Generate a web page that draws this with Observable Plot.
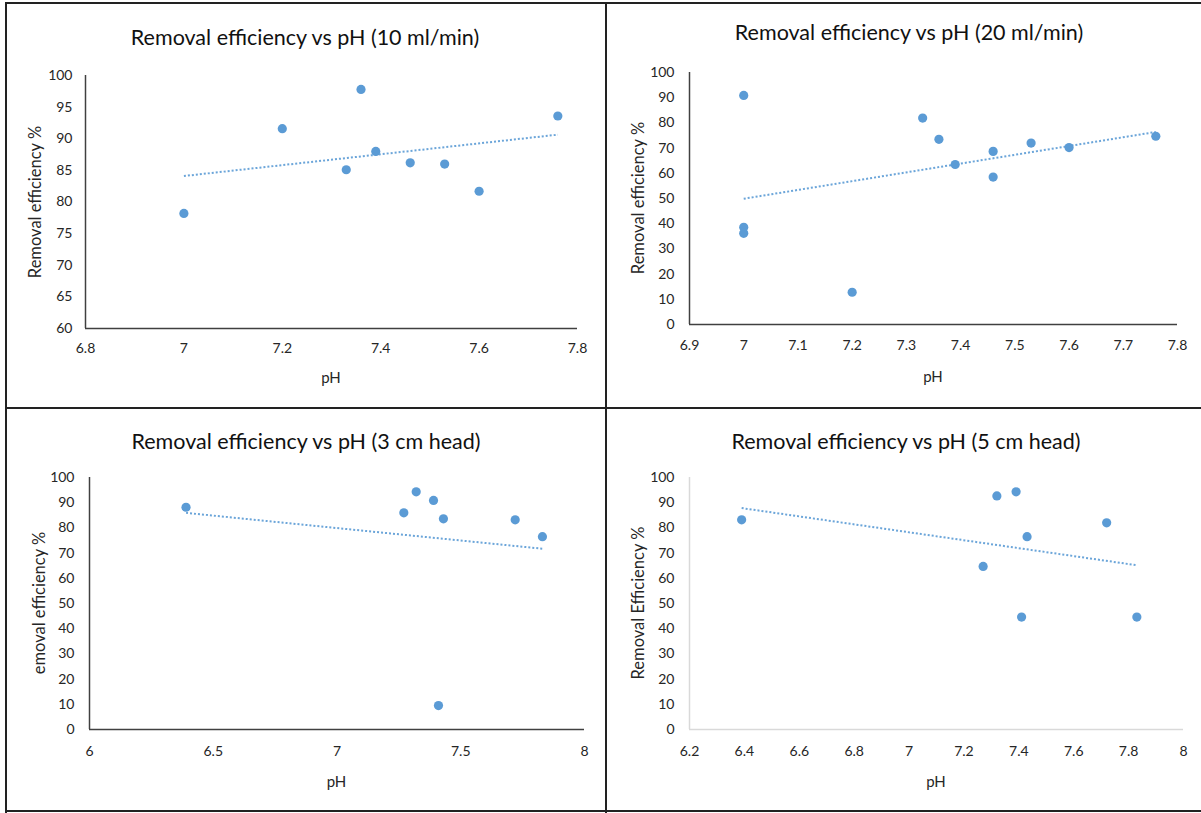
<!DOCTYPE html>
<html>
<head>
<meta charset="utf-8">
<script src="https://cdn.jsdelivr.net/npm/d3@7"></script>
<script src="https://cdn.jsdelivr.net/npm/@observablehq/plot@0.6"></script>
<style>
  html, body { margin: 0; padding: 0; background: #fff; }
  #root { position: relative; width: 1201px; height: 813px; overflow: hidden; background: #fff; font-family: Lato, "Open Sans", sans-serif; }
  .title { position: absolute; transform: translate(-50%, -50%); white-space: nowrap; font-size: 21.5px; color: #111; font-family: Lato, sans-serif; }
  .line { position: absolute; background: #222; }
</style>
</head>
<body>
<div id="root"></div>
<script>
// ---- data ----
const titles = [
  "Removal efficiency vs pH (10 ml/min)",
  "Removal efficiency vs pH (20 ml/min)",
  "Removal efficiency vs pH (3 cm head)",
  "Removal efficiency vs pH (5 cm head)"
];
const yLabels = ["Removal  efficiency %", "Removal  efficiency %", "emoval  efficiency %", "Removal  Efficiency %"];
const xLabel = "pH";

const ph10  = [7.00, 7.20, 7.33, 7.36, 7.39, 7.46, 7.53, 7.60, 7.76];
const eff10 = [78.2, 91.6, 85.1, 97.8, 88.0, 86.2, 86.0, 81.7, 93.6];

const ph20  = [7.00, 7.00, 7.00, 7.20, 7.33, 7.36, 7.39, 7.46, 7.46, 7.53, 7.60, 7.76];
const eff20 = [90.9, 38.6, 36.2, 12.8, 81.9, 73.5, 63.5, 68.7, 58.5, 72.0, 70.2, 74.7];

const ph3   = [6.39, 7.27, 7.32, 7.39, 7.41, 7.43, 7.72, 7.83];
const eff3  = [88.2, 86.0, 94.3, 90.9, 9.5, 83.6, 83.2, 76.5];

const ph5   = [6.39, 7.27, 7.32, 7.39, 7.41, 7.43, 7.72, 7.83];
const eff5  = [83.2, 64.7, 92.7, 94.3, 44.6, 76.5, 82.0, 44.6];

const xTicks10 = [6.8, 7, 7.2, 7.4, 7.6, 7.8];
const yTicks10 = [60, 65, 70, 75, 80, 85, 90, 95, 100];
const xTicks20 = [6.9, 7, 7.1, 7.2, 7.3, 7.4, 7.5, 7.6, 7.7, 7.8];
const yTicks100 = [0, 10, 20, 30, 40, 50, 60, 70, 80, 90, 100];
const xTicks3 = [6, 6.5, 7, 7.5, 8];
const xTicks5 = [6.2, 6.4, 6.6, 6.8, 7, 7.2, 7.4, 7.6, 7.8, 8];

// ---- layout ----
const root = document.getElementById("root");
const dotColor = "#5B9BD5";

const panels = [
  {ph: ph10, eff: eff10, xTicks: xTicks10, yTicks: yTicks10, left: 0, top: 0, w: 606, h: 408,
   m: {l: 85, r: 29, t: 75, b: 80}, axisColor: "#404040", yPad: 13, xPad: 15,
   title: [305, 37], yLab: 35, xLab: 377},
  {ph: ph20, eff: eff20, xTicks: xTicks20, yTicks: yTicks100, left: 606, top: 0, w: 595, h: 408,
   m: {l: 83, r: 24, t: 72, b: 84}, axisColor: "#404040", yPad: 15, xPad: 16,
   title: [909, 32], yLab: 638, xLab: 376},
  {ph: ph3, eff: eff3, xTicks: xTicks3, yTicks: yTicks100, left: 0, top: 408, w: 606, h: 405,
   m: {l: 89, r: 22, t: 69, b: 84}, axisColor: "#404040", yPad: 15, xPad: 17,
   title: [306, 441], yLab: 39, xLab: 781},
  {ph: ph5, eff: eff5, xTicks: xTicks5, yTicks: yTicks100, left: 606, top: 408, w: 595, h: 405,
   m: {l: 83, r: 18, t: 69, b: 84}, axisColor: "#d9d9d9", yPad: 15, xPad: 17,
   title: [906, 441], yLab: 638, xLab: 781}
];

panels.forEach((p, i) => {
  const data = p.ph.map((x, j) => ({ph: x, eff: p.eff[j]}));
  const xDom = [p.xTicks[0], p.xTicks[p.xTicks.length - 1]];
  const yDom = [p.yTicks[0], p.yTicks[p.yTicks.length - 1]];
  const chart = Plot.plot({
    width: p.w, height: p.h,
    marginLeft: p.m.l, marginRight: p.m.r, marginTop: p.m.t, marginBottom: p.m.b,
    style: {fontFamily: "Lato, sans-serif", fontSize: "14px", color: "#262626", background: "transparent", overflow: "visible"},
    x: {domain: xDom},
    y: {domain: yDom},
    marks: [
      Plot.axisX({ticks: p.xTicks, tickSize: 0, tickPadding: p.xPad, label: null, tickFormat: d => String(d)}),
      Plot.axisY({ticks: p.yTicks, tickSize: 0, tickPadding: p.yPad, label: null, tickFormat: d => String(d)}),
      Plot.ruleX([xDom[0]], {stroke: p.axisColor, strokeWidth: 1.5}),
      Plot.ruleY([yDom[0]], {stroke: p.axisColor, strokeWidth: 1.5}),
      Plot.linearRegressionY(data, {x: "ph", y: "eff", ci: 0, stroke: dotColor, strokeOpacity: 0.9, strokeWidth: 2, strokeDasharray: "2,2", strokeLinecap: "butt"}),
      Plot.dot(data, {x: "ph", y: "eff", r: 4.6, fill: dotColor, stroke: "none"})
    ]
  });
  chart.style.position = "absolute";
  chart.style.left = p.left + "px";
  chart.style.top = p.top + "px";
  root.appendChild(chart);

  const t = document.createElement("div");
  t.className = "title";
  t.textContent = titles[i];
  t.style.left = p.title[0] + "px";
  t.style.top = p.title[1] + "px";
  root.appendChild(t);

  const yl = document.createElement("div");
  yl.className = "title";
  yl.textContent = yLabels[i];
  yl.style.fontSize = "16.5px";
  yl.style.color = "#262626";
  yl.style.left = p.yLab + "px";
  yl.style.top = (p.top + p.m.t + (p.h - p.m.t - p.m.b) / 2) + "px";
  yl.style.transform = "translate(-50%, -50%) rotate(-90deg)";
  root.appendChild(yl);

  const xl = document.createElement("div");
  xl.className = "title";
  xl.textContent = xLabel;
  xl.style.fontSize = "15px";
  xl.style.color = "#262626";
  xl.style.left = (p.left + p.m.l + (p.w - p.m.l - p.m.r) / 2) + "px";
  xl.style.top = p.xLab + "px";
  root.appendChild(xl);
});

// panel borders
const lines = [
  {l: 6, t: 2, w: 1195, h: 2},
  {l: 5, t: 2, w: 2, h: 811},
  {l: 605, t: 2, w: 2, h: 811},
  {l: 6, t: 407, w: 1195, h: 2},
  {l: 6, t: 810, w: 1195, h: 2}
];
lines.forEach(s => {
  const d = document.createElement("div");
  d.className = "line";
  d.style.left = s.l + "px"; d.style.top = s.t + "px";
  d.style.width = s.w + "px"; d.style.height = s.h + "px";
  root.appendChild(d);
});
</script>
</body>
</html>
